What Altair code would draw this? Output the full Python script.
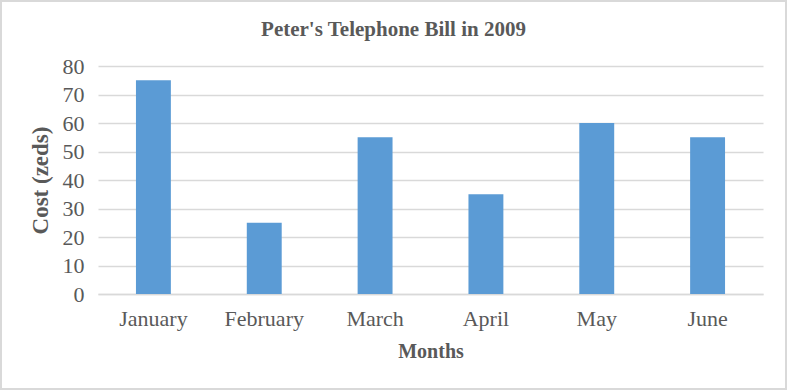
import altair as alt
import pandas as pd

months = ["January", "February", "March", "April", "May", "June"]
costs = [75, 25, 55, 35, 60, 55]

df = pd.DataFrame({"Month": months, "Cost": costs})

W, H = 665, 228
PL, PT, PR, PB = 98, 66, 787 - 98 - W, 391 - 66 - H
FONT = "Liberation Serif"
GRAY = "#595959"

bars = alt.Chart(df).mark_bar(color="#5B9BD5").encode(
    x=alt.X("Month:N", sort=months, title="Months",
            scale=alt.Scale(paddingInner=0.685, paddingOuter=0.3425),
            axis=alt.Axis(labelAngle=0, labelFont=FONT, labelFontSize=22, labelColor=GRAY,
                          labelPadding=14, ticks=False, domain=True, domainColor="#d9d9d9",
                          domainWidth=1.5,
                          titleFont=FONT, titleFontSize=20, titleColor=GRAY, titleFontWeight="bold",
                          titlePadding=12)),
    y=alt.Y("Cost:Q", title="Cost (zeds)",
            scale=alt.Scale(domain=[0, 80]),
            axis=alt.Axis(values=list(range(0, 81, 10)), labelFont=FONT, labelFontSize=22,
                          labelColor=GRAY, labelPadding=14, ticks=False, domain=False,
                          gridColor="#d9d9d9", gridWidth=1.5,
                          titleFont=FONT, titleFontSize=23, titleColor=GRAY, titleFontWeight="bold",
                          titlePadding=10)),
)

border = alt.Chart(df).mark_rect(fill=None, stroke="#d9d9d9", strokeWidth=2).encode(
    x=alt.value(-PL + 1), x2=alt.value(W + PR - 1),
    y=alt.value(-PT + 1), y2=alt.value(H + PB - 2),
)

chart = alt.layer(bars, border).properties(
    width=W, height=H,
    title=alt.TitleParams("Peter's Telephone Bill in 2009", font=FONT, fontSize=21,
                          fontWeight="bold", color=GRAY, anchor="middle", frame="bounds",
                          offset=-40),
    autosize=alt.AutoSizeParams(type="none"),
    padding={"left": PL, "top": PT, "right": PR, "bottom": PB},
).configure_view(stroke=None)

chart.save("out.html", embed_options={"renderer": "svg", "actions": False})
